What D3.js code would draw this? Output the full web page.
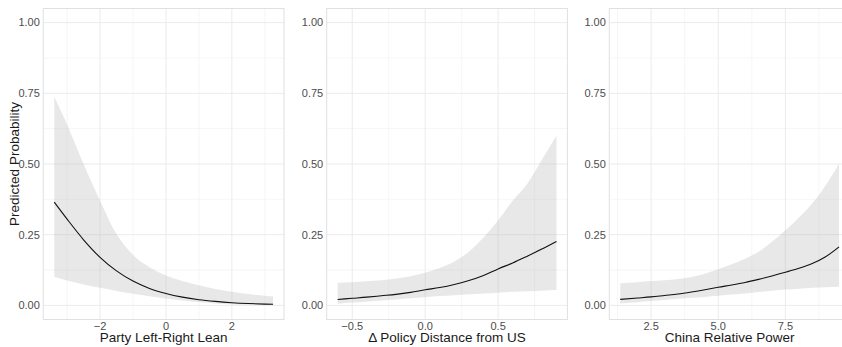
<!DOCTYPE html>
<html>
<head>
<meta charset="utf-8">
<script src="https://cdn.jsdelivr.net/npm/d3@7"></script>
<style>
  body { margin: 0; background: #fff; }
  text { font-family: "Liberation Sans", Arial, sans-serif; }
</style>
</head>
<body>
<script>
// three predicted-probability panels

// party left-right lean
const leanX   = [-3.39, -3.0, -2.5, -2.0, -1.5, -1.0, -0.5, 0, 0.5, 1.0, 1.5, 2.0, 2.5, 3.0, 3.25];
const leanFit = [0.365, 0.305, 0.232, 0.170, 0.122, 0.086, 0.060, 0.042, 0.029, 0.020, 0.014, 0.0095, 0.0065, 0.0045, 0.0037];
const leanLo  = [0.101, 0.088, 0.074, 0.062, 0.051, 0.041, 0.032, 0.024, 0.017, 0.011, 0.007, 0.004, 0.002, 0.001, 0.001];
const leanHi  = [0.738, 0.640, 0.500, 0.370, 0.252, 0.178, 0.135, 0.106, 0.086, 0.071, 0.058, 0.048, 0.040, 0.034, 0.031];

// delta policy distance from US
const distX   = [-0.6, -0.5, -0.4, -0.3, -0.2, -0.1, 0, 0.1, 0.2, 0.3, 0.4, 0.5, 0.6, 0.7, 0.8, 0.9];
const distFit = [0.021, 0.025, 0.029, 0.034, 0.039, 0.046, 0.055, 0.063, 0.074, 0.088, 0.106, 0.129, 0.150, 0.174, 0.199, 0.226];
const distLo  = [0.006, 0.010, 0.013, 0.017, 0.021, 0.025, 0.029, 0.033, 0.036, 0.039, 0.042, 0.045, 0.048, 0.050, 0.052, 0.054];
const distHi  = [0.080, 0.082, 0.085, 0.089, 0.095, 0.103, 0.115, 0.132, 0.155, 0.190, 0.240, 0.300, 0.370, 0.430, 0.515, 0.600];

// china relative power
const powX   = [1.35, 2.0, 2.5, 3.0, 3.5, 4.0, 4.5, 5.0, 5.5, 6.0, 6.5, 7.0, 7.5, 8.0, 8.5, 9.0, 9.5];
const powFit = [0.021, 0.026, 0.030, 0.035, 0.040, 0.047, 0.055, 0.064, 0.072, 0.081, 0.092, 0.104, 0.117, 0.131, 0.148, 0.172, 0.207];
const powLo  = [0.007, 0.011, 0.015, 0.019, 0.023, 0.027, 0.030, 0.034, 0.038, 0.042, 0.047, 0.052, 0.056, 0.059, 0.062, 0.064, 0.066];
const powHi  = [0.078, 0.082, 0.086, 0.089, 0.093, 0.100, 0.112, 0.128, 0.145, 0.165, 0.190, 0.225, 0.266, 0.310, 0.360, 0.425, 0.500];

const titles = ["Party Left-Right Lean", "\u0394 Policy Distance from US", "China Relative Power"];
const xMajor = [[-2, 0, 2], [-0.5, 0, 0.5], [2.5, 5, 7.5]];
const xMinor = [[-3, -1, 1, 3], [-0.25, 0.25, 0.75], [1.25, 3.75, 6.25, 8.75]];
const xFmt   = [d3.format("d"), d3.format(".1f"), d3.format(".1f")];
const yMajor = [0, 0.25, 0.5, 0.75, 1];
const yMinor = [0.125, 0.375, 0.625, 0.875];

const width = 842, height = 347;
const panelLeft = [43.3, 326.7, 609.3];
const panelW = 240.7, panelTop = 8.5, panelBottom = 319.5;

const svg = d3.select("body").append("svg")
  .attr("width", width)
  .attr("height", height);

const y = d3.scaleLinear().domain([-0.05, 1.05]).range([panelBottom, panelTop]);

const sets = [
  {x: leanX, fit: leanFit, lo: leanLo, hi: leanHi},
  {x: distX, fit: distFit, lo: distLo, hi: distHi},
  {x: powX,  fit: powFit,  lo: powLo,  hi: powHi}
];

sets.forEach(function(s, i) {
  const rows = s.x.map((v, j) => ({x: v, fit: s.fit[j], lo: s.lo[j], hi: s.hi[j]}));
  const ext = d3.extent(s.x);
  const pad = (ext[1] - ext[0]) * 0.05;
  const x = d3.scaleLinear()
    .domain([ext[0] - pad, ext[1] + pad])
    .range([panelLeft[i], panelLeft[i] + panelW]);

  const g = svg.append("g");

  // grid
  g.selectAll(".ymin").data(yMinor).enter().append("line")
    .attr("x1", x.range()[0]).attr("x2", x.range()[1])
    .attr("y1", d => y(d)).attr("y2", d => y(d))
    .attr("stroke", "#f4f4f4").attr("stroke-width", 0.8);
  g.selectAll(".xmin").data(xMinor[i]).enter().append("line")
    .attr("x1", d => x(d)).attr("x2", d => x(d))
    .attr("y1", panelTop).attr("y2", panelBottom)
    .attr("stroke", "#f4f4f4").attr("stroke-width", 0.8);
  g.selectAll(".ymaj").data(yMajor).enter().append("line")
    .attr("x1", x.range()[0]).attr("x2", x.range()[1])
    .attr("y1", d => y(d)).attr("y2", d => y(d))
    .attr("stroke", "#ebebeb").attr("stroke-width", 1);
  g.selectAll(".xmaj").data(xMajor[i]).enter().append("line")
    .attr("x1", d => x(d)).attr("x2", d => x(d))
    .attr("y1", panelTop).attr("y2", panelBottom)
    .attr("stroke", "#ebebeb").attr("stroke-width", 1);

  // ribbon + fitted line
  const band = d3.area()
    .x(d => x(d.x)).y0(d => y(d.lo)).y1(d => y(d.hi))
    .curve(d3.curveMonotoneX);
  g.append("path").datum(rows)
    .attr("d", band)
    .attr("fill", "#b3b3b3").attr("fill-opacity", 0.3);

  const line = d3.line()
    .x(d => x(d.x)).y(d => y(d.fit))
    .curve(d3.curveMonotoneX);
  g.append("path").datum(rows)
    .attr("d", line)
    .attr("fill", "none").attr("stroke", "#111").attr("stroke-width", 1.1);

  // border
  g.append("rect")
    .attr("x", x.range()[0]).attr("y", panelTop)
    .attr("width", panelW).attr("height", panelBottom - panelTop)
    .attr("fill", "none").attr("stroke", "#e0e0e0").attr("stroke-width", 1);

  // tick labels
  g.selectAll(".xt").data(xMajor[i]).enter().append("text")
    .attr("x", d => x(d)).attr("y", 329.5)
    .attr("text-anchor", "middle")
    .attr("font-size", 11).attr("fill", "#4d4d4d")
    .text(d => xFmt[i](d));
  g.selectAll(".yt").data(yMajor).enter().append("text")
    .attr("x", panelLeft[i] - 3.5).attr("y", d => y(d))
    .attr("dy", "0.35em")
    .attr("text-anchor", "end")
    .attr("font-size", 11).attr("fill", "#4d4d4d")
    .text(d => d3.format(".2f")(d));

  // axis title
  g.append("text")
    .attr("x", panelLeft[i] + panelW / 2).attr("y", 342)
    .attr("text-anchor", "middle")
    .attr("font-size", 13.5).attr("fill", "#1a1a1a")
    .text(titles[i]);
});

svg.append("text")
  .attr("transform", "translate(19," + ((panelTop + panelBottom) / 2) + ") rotate(-90)")
  .attr("text-anchor", "middle")
  .attr("font-size", 13.5).attr("fill", "#1a1a1a")
  .text("Predicted Probability");
</script>
</body>
</html>
